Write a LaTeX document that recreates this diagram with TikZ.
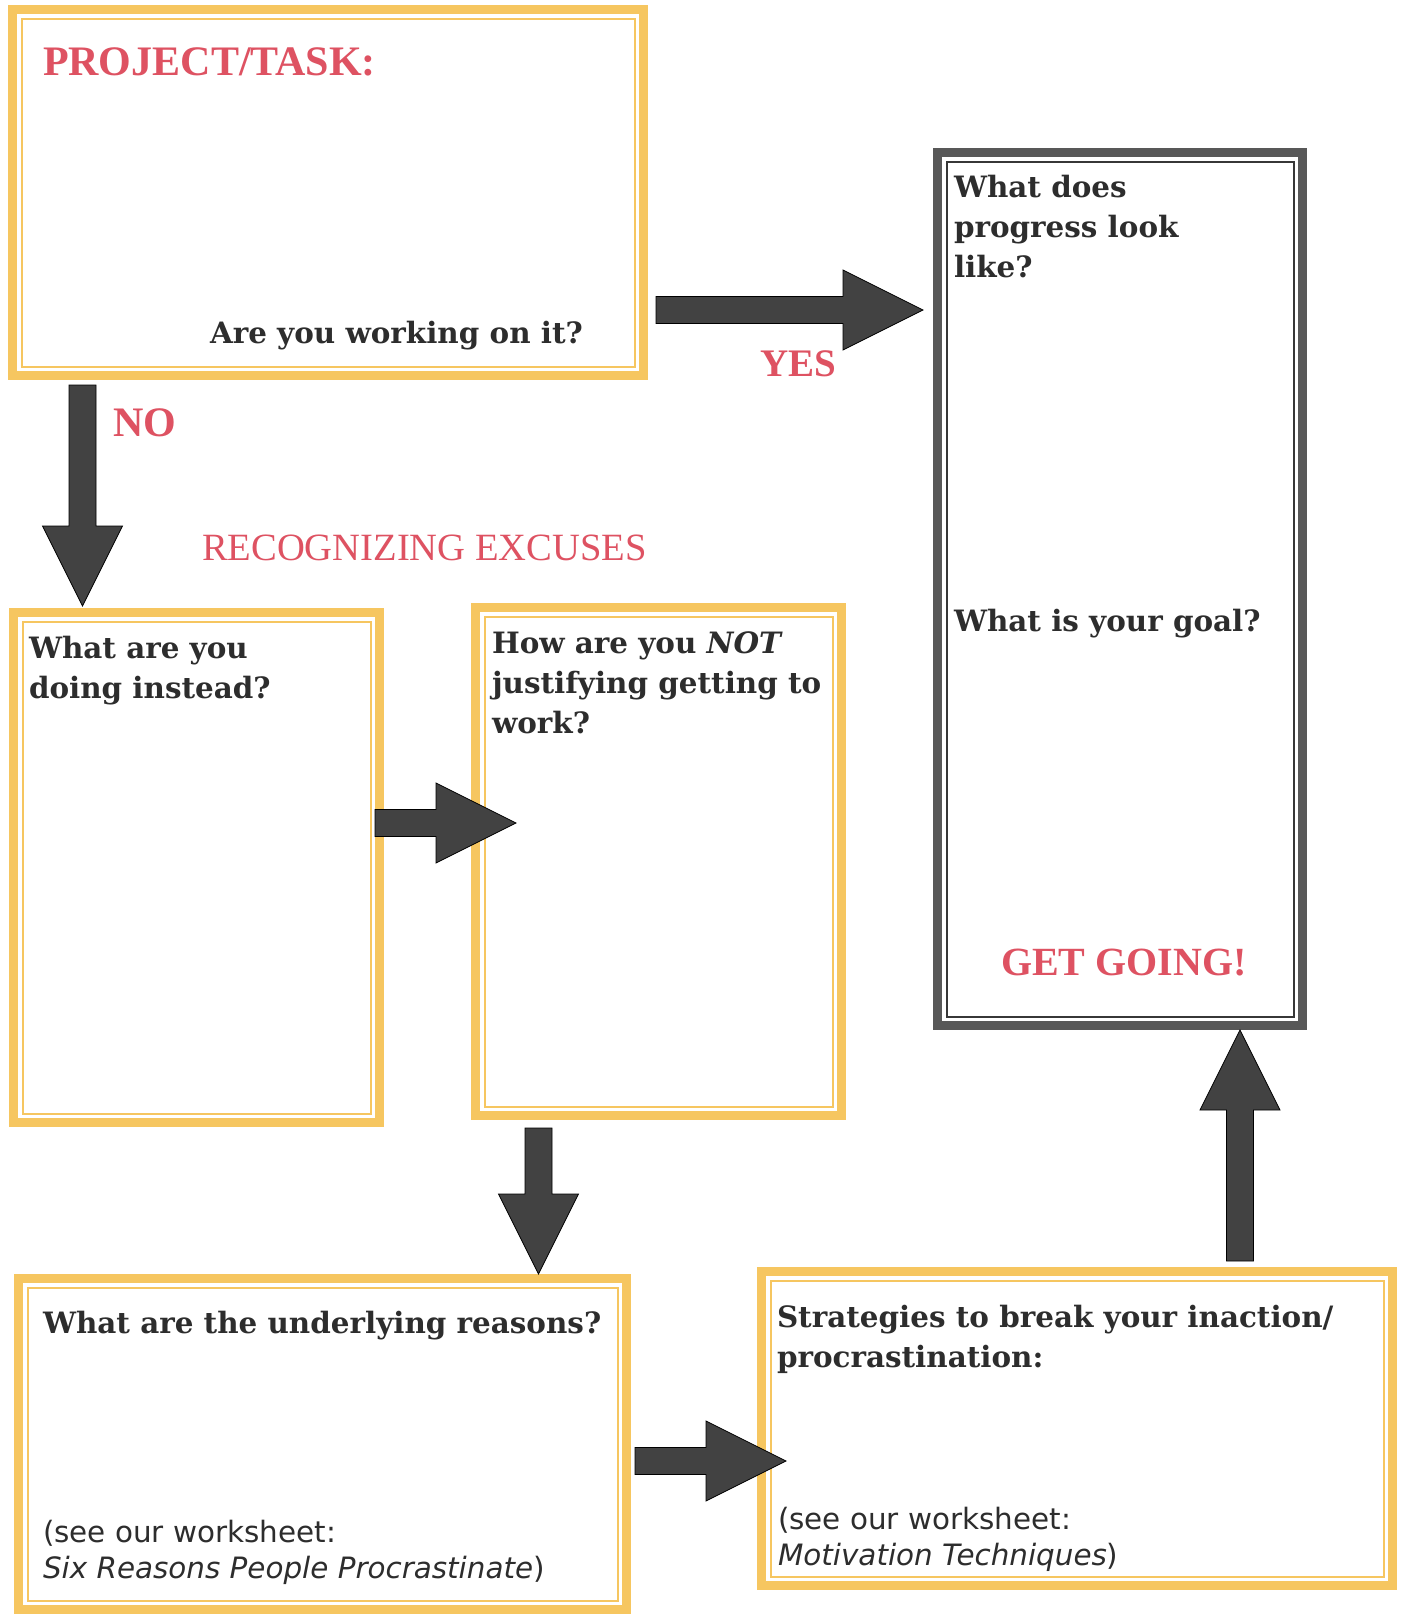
\documentclass[tikz,border=0pt]{standalone}
\usepackage{fontspec}
\setmainfont{DejaVu Serif}
\newfontfamily\redserif{Liberation Serif}
\newfontfamily\sansfam{DejaVu Sans}
\usetikzlibrary{calc,fit}
\definecolor{ybord}{RGB}{246,198,96}
\definecolor{gbord}{RGB}{88,88,88}
\definecolor{gline}{RGB}{55,55,55}
\definecolor{afill}{RGB}{66,66,66}
\definecolor{redtxt}{RGB}{222,82,98}
\definecolor{blktxt}{RGB}{45,45,45}
\tikzset{
  boxouter/.style={draw=#1, line width=4.5pt, inner sep=-2.25pt, outer sep=0pt, rectangle},
  lbl/.style={anchor=base west, inner sep=0pt, outer sep=0pt},
  qtext/.style={lbl, text=blktxt, font=\fontsize{14.7}{20}\selectfont\bfseries, align=left},
  redlbl/.style={lbl, text=redtxt, font=\redserif\fontsize{19.5}{24}\selectfont\bfseries},
  notetext/.style={lbl, text=blktxt, font=\sansfam\fontsize{14.7}{18}\selectfont, align=left},
  blockarrow/.style={fill=afill, draw=black, line width=0.4pt, line join=miter},
}
\newcommand\innerframe[2]{\draw[#2, line width=1pt] ([shift={(4.5pt,-4.5pt)}]#1.north west) rectangle ([shift={(-4.5pt,4.5pt)}]#1.south east);}
\newcommand\blockarr[2]{%
  \coordinate (hb) at ($(#2)!40pt!(#1)$);
  \draw[blockarrow] ($(#1)!6.75pt!90:(#2)$) -- ($(hb)!6.75pt!90:(#2)$) -- ($(hb)!20pt!90:(#2)$) -- (#2) -- ($(hb)!20pt!-90:(#2)$) -- ($(hb)!6.75pt!-90:(#2)$) -- ($(#1)!6.75pt!-90:(#2)$) -- cycle;}
\begin{document}
\begin{tikzpicture}[x=0.5pt,y=-0.5pt]
\useasboundingbox[fill=white] (0,0) rectangle (1405,1617);
% boxes
\node[boxouter=ybord, fit={(8,5)(648,380)}] (b1) {};
\innerframe{b1}{ybord}
\node[boxouter=gbord, fit={(933,148)(1307,1030)}] (b2) {};
\innerframe{b2}{gline}
\node[boxouter=ybord, fit={(9,608)(384,1127)}] (b3) {};
\innerframe{b3}{ybord}
\node[boxouter=ybord, fit={(471,603)(846,1120)}] (b4) {};
\innerframe{b4}{ybord}
\node[boxouter=ybord, fit={(14,1274)(631,1614)}] (b5) {};
\innerframe{b5}{ybord}
\node[boxouter=ybord, fit={(757,1267)(1397,1590)}] (b6) {};
\innerframe{b6}{ybord}
% arrows
\coordinate (a1s) at (656,310);  \coordinate (a1e) at (923,310);
\coordinate (a2s) at (82.5,385); \coordinate (a2e) at (82.5,606);
\coordinate (a3s) at (375,823);  \coordinate (a3e) at (516,823);
\coordinate (a4s) at (538.5,1128); \coordinate (a4e) at (538.5,1274);
\coordinate (a5s) at (635,1461); \coordinate (a5e) at (786,1461);
\coordinate (a6s) at (1240,1261); \coordinate (a6e) at (1240,1030);
\blockarr{a1s}{a1e}
\blockarr{a2s}{a2e}
\blockarr{a3s}{a3e}
\blockarr{a4s}{a4e}
\blockarr{a5s}{a5e}
\blockarr{a6s}{a6e}
% texts (multi-line nodes are placed by the baseline of their last line)
\node[redlbl, font=\redserif\fontsize{21}{24}\selectfont\bfseries] (t1) at (43,75) {PROJECT/TASK:};
\node[qtext] (t2) at (210,343) {Are you working on it?};
\node[redlbl] (yes) at (760,376) {YES};
\node[redlbl, font=\redserif\fontsize{21}{24}\selectfont\bfseries] (no) at (113,436) {NO};
\node[lbl, text=redtxt, font=\redserif\fontsize{19.3}{24}\selectfont] (rec) at (202,560) {RECOGNIZING EXCUSES};
\node[qtext] (t3) at (954,277) {What does\\progress look\\like?};
\node[qtext] (t4) at (954,631) {What is your goal?};
\node[redlbl, font=\redserif\fontsize{20}{24}\selectfont\bfseries] (go) at (1001,975) {GET GOING!};
\node[qtext] (t5) at (29,698) {What are you\\doing instead?};
\node[qtext] (t6) at (492,733) {How are you \textit{NOT}\\justifying getting to\\work?};
\node[qtext] (t7) at (43,1333) {What are the underlying reasons?};
\node[notetext] (t8) at (43,1578) {(see our worksheet:\\\textit{Six Reasons People Procrastinate})};
\node[qtext] (t9) at (777,1367) {Strategies to break your inaction/\\procrastination:};
\node[notetext] (t10) at (778,1565) {(see our worksheet:\\\textit{Motivation Techniques})};
\end{tikzpicture}
\end{document}
